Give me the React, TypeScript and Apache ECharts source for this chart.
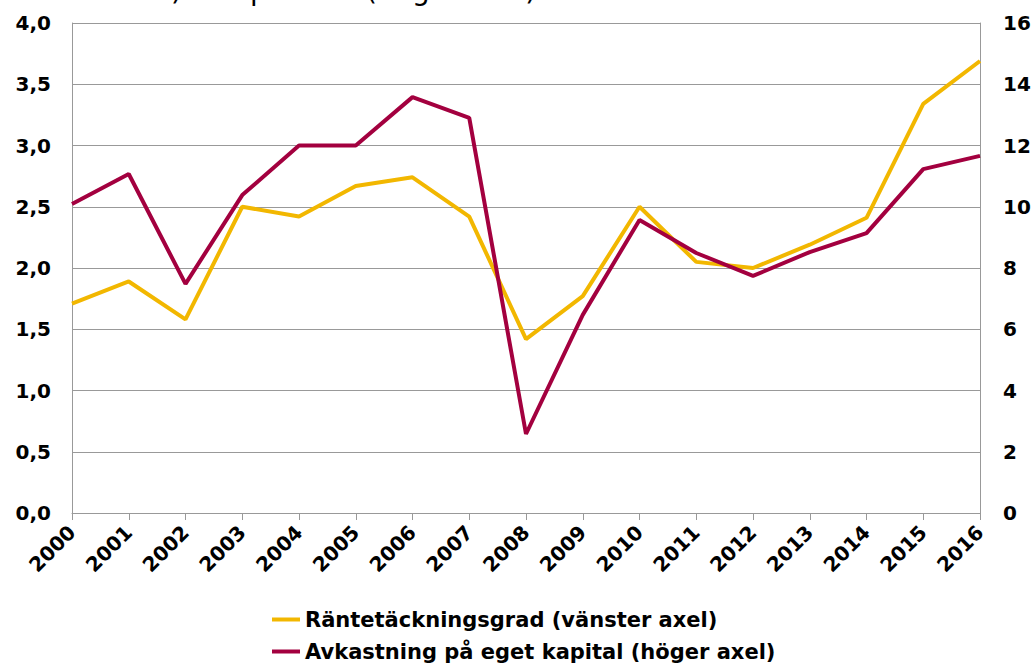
import React, { useEffect, useRef } from "react";
import * as echarts from "echarts";

const years = ["2000","2001","2002","2003","2004","2005","2006","2007","2008","2009","2010","2011","2012","2013","2014","2015","2016"];
const ranteteckning = [1.71, 1.89, 1.58, 2.5, 2.42, 2.67, 2.74, 2.42, 1.42, 1.77, 2.5, 2.05, 2.0, 2.19, 2.41, 3.34, 3.69];
const avkastning = [10.09, 11.07, 7.48, 10.38, 12.0, 12.0, 13.58, 12.9, 2.58, 6.47, 9.57, 8.49, 7.74, 8.52, 9.14, 11.23, 11.66];

const seriesNames = ["Räntetäckningsgrad (vänster axel)", "Avkastning på eget kapital (höger axel)"];
const topTitle = "Kvot) och procent (höger axel)";

export default function App() {
  const ref = useRef<HTMLDivElement>(null);
  useEffect(() => {
    if (!ref.current) return;
    const chart = echarts.init(ref.current, null, { renderer: "svg" });
    const font = "DejaVu Sans, Verdana, sans-serif";
    const legendText = { fontFamily: font, fontWeight: "bold", fontSize: 21, color: "#000" };
    chart.setOption({
      animation: false,
      graphic: [
        {
          type: "text",
          x: 108,
          y: -10,
          style: {
            text: topTitle,
            font: "normal 28px " + font,
            fill: "#000",
            align: "left",
            verticalAlign: "middle",
          },
        },
      ],
      grid: { left: 72, right: 54, top: 23, bottom: 154, containLabel: false },
      legend: [
        {
          left: 272,
          top: 609,
          padding: 0,
          itemWidth: 28,
          itemHeight: 4,
          itemGap: 0,
          icon: "rect",
          textStyle: legendText,
          data: [seriesNames[0]],
        },
        {
          left: 272,
          top: 641,
          padding: 0,
          itemWidth: 28,
          itemHeight: 4,
          itemGap: 0,
          icon: "rect",
          textStyle: legendText,
          data: [seriesNames[1]],
        },
      ],
      xAxis: {
        type: "category",
        data: years,
        boundaryGap: false,
        axisLine: { lineStyle: { color: "#999", width: 1 } },
        axisTick: { show: true, alignWithLabel: true, length: 7, lineStyle: { color: "#999" } },
        axisLabel: {
          rotate: 45,
          interval: 0,
          margin: 16,
          fontFamily: font,
          fontWeight: "bold",
          fontSize: 20,
          color: "#000",
        },
      },
      yAxis: [
        {
          type: "value",
          min: 0,
          max: 4,
          interval: 0.5,
          position: "left",
          axisLine: { show: true, lineStyle: { color: "#999" } },
          axisTick: { show: false },
          splitLine: { show: true, lineStyle: { color: "#999", width: 1 } },
          axisLabel: {
            margin: 21,
            fontFamily: font,
            fontWeight: "bold",
            fontSize: 20,
            color: "#000",
            formatter: (v: number) => v.toFixed(1).replace(".", ","),
          },
        },
        {
          type: "value",
          min: 0,
          max: 16,
          interval: 2,
          position: "right",
          axisLine: { show: true, lineStyle: { color: "#999" } },
          axisTick: { show: false },
          splitLine: { show: false },
          axisLabel: {
            margin: 23,
            fontFamily: font,
            fontWeight: "bold",
            fontSize: 20,
            color: "#000",
          },
        },
      ],
      series: [
        {
          name: seriesNames[0],
          type: "line",
          yAxisIndex: 0,
          data: ranteteckning,
          showSymbol: false,
          symbol: "none",
          lineStyle: { color: "#F2B700", width: 4 },
          itemStyle: { color: "#F2B700" },
        },
        {
          name: seriesNames[1],
          type: "line",
          yAxisIndex: 1,
          data: avkastning,
          showSymbol: false,
          symbol: "none",
          lineStyle: { color: "#A3003F", width: 4 },
          itemStyle: { color: "#A3003F" },
        },
      ],
    });
    return () => chart.dispose();
  }, []);
  return (
    <div
      ref={ref}
      style={{ position: "absolute", left: 0, top: 0, width: 1034, height: 667, background: "#fff" }}
    />
  );
}
